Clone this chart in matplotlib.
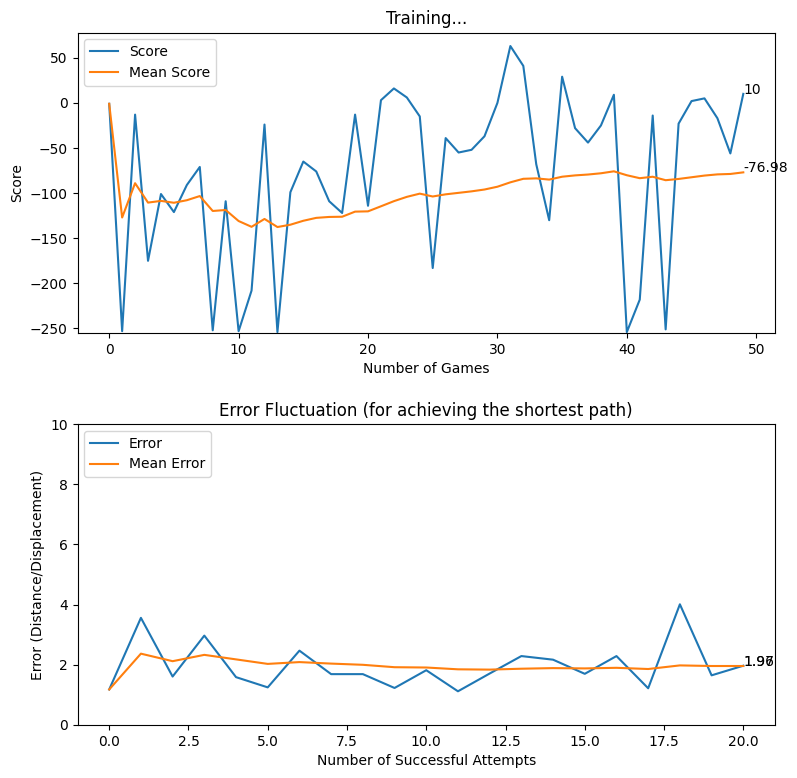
import matplotlib
matplotlib.use("Agg")
import matplotlib.pyplot as plt

scores = [-1, -253, -13, -175, -101, -121, -91, -71, -252, -109,
          -253, -208, -24, -254, -99, -65, -76, -109, -122, -13,
          -114, 3, 16, 6, -15, -183, -39, -55, -52, -37,
          0, 63, 41, -68, -130, 29, -28, -44, -25, 9,
          -254, -218, -14, -251, -23, 2, 5, -17, -56, 10]
mean_scores = [-1.0, -127.0, -89.0, -110.5, -108.6, -110.67, -107.86, -103.25, -119.78, -118.7,
               -130.91, -137.33, -128.62, -137.57, -135.0, -130.63, -127.41, -126.39, -126.16, -120.5,
               -120.19, -114.59, -108.91, -104.13, -100.56, -103.73, -101.33, -99.68, -98.03, -96.0,
               -92.9, -88.03, -84.12, -83.65, -85.0, -81.81, -80.35, -79.39, -78.0, -75.83,
               -80.17, -83.45, -81.84, -85.68, -84.29, -82.41, -80.55, -79.23, -78.76, -76.98]

errors = [1.18, 3.56, 1.61, 2.97, 1.59, 1.25, 2.47, 1.69, 1.69, 1.23,
          1.82, 1.12, 1.71, 2.29, 2.17, 1.70, 2.29, 1.22, 4.01, 1.65, 1.97]
mean_errors = [1.18, 2.37, 2.12, 2.33, 2.18, 2.03, 2.09, 2.04, 2.0, 1.92,
               1.91, 1.85, 1.84, 1.87, 1.89, 1.88, 1.9, 1.86, 1.98, 1.96, 1.96]

W, H = 797, 778
fig = plt.figure(figsize=(W / 100, H / 100), dpi=100)

ax1 = fig.add_axes([77.5 / W, 1 - 333 / H, 697.5 / W, 300.5 / H])
ax1.plot(range(len(scores)), scores, label="Score")
ax1.plot(range(len(mean_scores)), mean_scores, label="Mean Score")
ax1.set_ylim(-255, 78)
ax1.set_title("Training...")
ax1.set_xlabel("Number of Games")
ax1.set_ylabel("Score")
ax1.legend(loc="upper left")
ax1.text(len(scores) - 1, scores[-1], str(scores[-1]))
ax1.text(len(mean_scores) - 1, mean_scores[-1], str(mean_scores[-1]))

ax2 = fig.add_axes([77.5 / W, 1 - 725 / H, 697.5 / W, 301 / H])
ax2.plot(range(len(errors)), errors, label="Error")
ax2.plot(range(len(mean_errors)), mean_errors, label="Mean Error")
ax2.set_ylim(0, 10)
ax2.set_title("Error Fluctuation (for achieving the shortest path)")
ax2.set_xlabel("Number of Successful Attempts")
ax2.set_ylabel("Error (Distance/Displacement)")
ax2.legend(loc="upper left")
ax2.text(len(errors) - 1, errors[-1], str(errors[-1]))
ax2.text(len(mean_errors) - 1, mean_errors[-1], str(mean_errors[-1]))

fig.savefig("out.png", dpi=100)
